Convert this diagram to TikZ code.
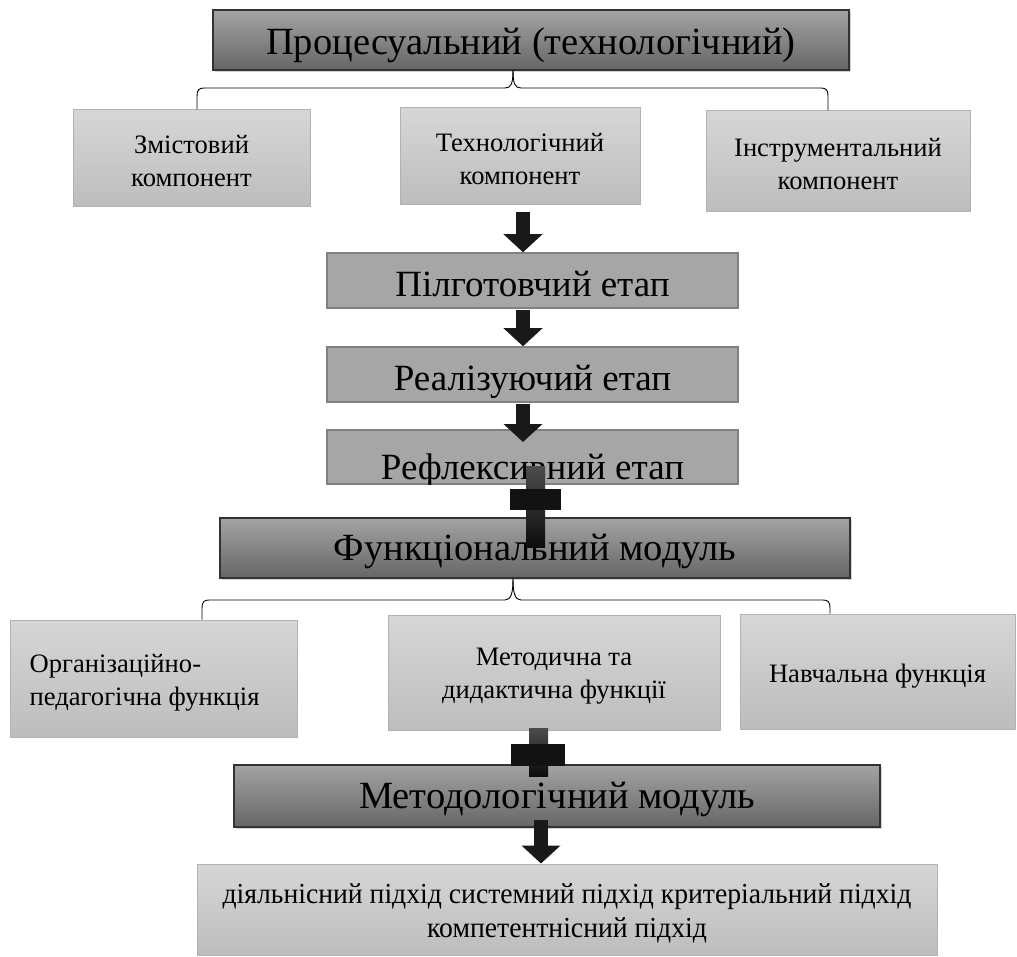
\documentclass[tikz,border=0pt]{standalone}
\usepackage{fontspec}
\setmainfont{Liberation Serif}
\usetikzlibrary{shadows,calc,arrows.meta}
\begin{document}
\begin{tikzpicture}[x=1pt,y=-1pt,
  darkbox/.style={draw=black!80, line width=1.2pt, top color=black!36, bottom color=black!60,
    drop shadow={opacity=0.35, shadow xshift=1.5pt, shadow yshift=-2pt},
    inner sep=0pt, text depth=0pt, font=\fontsize{38.5}{42}\selectfont},
  midbox/.style={draw=black!50, line width=1.5pt, fill=black!35,
    inner sep=0pt, text depth=0pt, text height=33pt, font=\fontsize{37}{40}\selectfont},
  lightbox/.style={draw=black!30, line width=1pt, top color=black!16, bottom color=black!26, inner sep=0pt},
  ltext/.style={align=center, inner sep=0pt, font=\fontsize{26.6}{33}\selectfont},
  brace/.style={draw=black, line width=0.9pt},
  downarrow/.style={draw=black!90, line width=14pt,
    -{Triangle[width=38pt,length=18pt]}},
  plusbar/.style={draw=none, top color=black!70, bottom color=black!95},
  plusbarh/.style={draw=none, fill=black!93}
]
\useasboundingbox (0,0) rectangle (1017,957);

% --- top module and its three components
\node[darkbox, text height=30pt, minimum width=636pt, minimum height=60pt] (top) at (531,40) {Процесуальний (технологічний)};

\node[lightbox, minimum width=237pt, minimum height=97pt] (c1) at (191.5,158.5) {};
\node[lightbox, minimum width=240pt, minimum height=97pt] (c2) at (520,156.5) {};
\node[lightbox, minimum width=264pt, minimum height=101pt] (c3) at (838,161.5) {};
\node[ltext] (c1t) at ([yshift=-3pt]c1.center) {Змістовий\\компонент};
\node[ltext] (c2t) at ([yshift=-3pt]c2.center) {Технологічний\\компонент};
\node[ltext] (c3t) at ([yshift=-3pt]c3.center) {Інструментальний\\компонент};

% brace from the top module to the components
\coordinate (t1) at (513,70);
\draw[brace] (t1) .. controls (513,84) and (511,88) .. (505,88) -- (204,88)
  .. controls (199,88) and (197,90) .. (197,96) -- (c1.north -| 197,0);
\draw[brace] (t1) .. controls (513,84) and (515,88) .. (521,88) -- (821,88)
  .. controls (826,88) and (828,90) .. (828,96) -- (c3.north -| 828,0);

% --- stages
\node[midbox, minimum width=411pt, minimum height=55pt] (s1) at (532.5,280.5) {Пілготовчий етап};
\node[midbox, minimum width=411pt, minimum height=55pt] (s2) at (532.5,374.5) {Реалізуючий етап};
\node[midbox, minimum width=411pt, minimum height=54pt] (s3) at (532.5,457) {};
\begin{scope}
  \clip (s3.south west) rectangle (s3.north east);
  \node[font=\fontsize{37}{40}\selectfont, anchor=base, inner sep=0pt] (s3t) at (532.5,479) {Рефлексивний етап};
\end{scope}

\draw[downarrow] (523,212) -- (s1.north -| 523,0);
\draw[downarrow] (523,310) -- (s2.north -| 523,0);
\draw[downarrow] (523,404) -- (523,442);

% --- functional module
\node[darkbox, text height=24pt, minimum width=630pt, minimum height=60pt] (fm) at (535,548) {Функціональний модуль};
\shade[plusbar] (526,466) rectangle (545,547);
\fill[plusbarh] (510,489) rectangle (561,510);

\node[lightbox, minimum width=287pt, minimum height=117pt] (f1) at (153.5,678.5) {};
\node[lightbox, minimum width=332pt, minimum height=115pt] (f2) at (554,672.5) {};
\node[lightbox, minimum width=275pt, minimum height=115pt] (f3) at (877.5,671.5) {};
\node[ltext, align=left, anchor=west] (f1t) at ([xshift=20pt,yshift=-4pt]f1.west) {Організаційно-\\педагогічна функція};
\node[ltext] (f2t) at ([yshift=-4pt]f2.center) {Методична та\\дидактична функції};
\node[ltext] (f3t) at ([yshift=-5pt]f3.center) {Навчальна функція};

\coordinate (t2) at (513,579);
\draw[brace] (t2) .. controls (513,593) and (511,600) .. (505,600) -- (209,600)
  .. controls (204,600) and (202,602) .. (202,608) -- (f1.north -| 202,0);
\draw[brace] (t2) .. controls (513,593) and (515,600) .. (521,600) -- (823,600)
  .. controls (828,600) and (830,602) .. (830,608) -- (f3.north -| 830,0);

% --- methodological module
\node[darkbox, text height=24pt, minimum width=646pt, minimum height=62pt] (mm) at (557,796) {Методологічний модуль};
\shade[plusbar] (529,728) rectangle (548,776);
\fill[plusbarh] (511,744) rectangle (565,766);

\node[lightbox, minimum width=740pt, minimum height=91pt] (ap) at (567,909.5) {};
\node[ltext, font=\fontsize{29}{34}\selectfont] (apt) at ([yshift=-4pt]ap.center)
  {\scalebox{0.955}[1]{\begin{tabular}{@{}c@{}}діяльнісний підхід системний підхід критеріальний підхід\\компетентнісний підхід\end{tabular}}};
\draw[downarrow] (541,820) -- (ap.north -| 541,0);
\end{tikzpicture}
\end{document}
